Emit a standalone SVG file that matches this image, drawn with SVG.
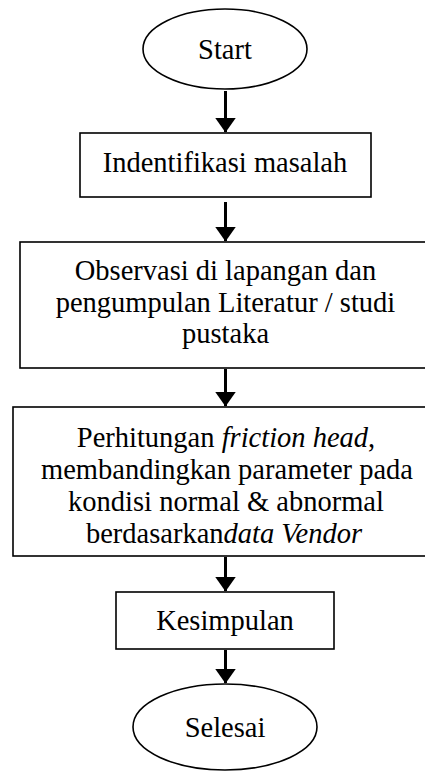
<svg xmlns="http://www.w3.org/2000/svg" width="425" height="773" viewBox="0 0 425 773">
<style>
.s{fill:#fff;stroke:#000;stroke-width:1.6}
.t{font-family:"Liberation Serif","Times New Roman","DejaVu Serif",serif;font-size:28.5px;fill:#000;text-anchor:middle}
.c{stroke:#000;stroke-width:3;fill:none}
</style>
<defs>
<marker id="ah" markerWidth="5" markerHeight="7" refX="4.8" refY="3.5" orient="auto" markerUnits="strokeWidth">
<path d="M0,0 L5,3.5 L0,7 Z" fill="#000"/>
</marker>
</defs>
<rect width="425" height="773" fill="#fff"/>
<g id="start"><ellipse class="s" cx="225" cy="49" rx="82" ry="40"/><text class="t" x="225" y="59">Start</text></g>
<g id="identifikasi"><rect class="s" x="80" y="133" width="291" height="64"/><text class="t" x="225" y="172">Indentifikasi masalah</text></g>
<g id="observasi"><rect class="s" x="20" y="242" width="420" height="126"/><text class="t" x="225.5" y="280">Observasi di lapangan dan</text><text class="t" x="225.5" y="312">pengumpulan Literatur / studi</text><text class="t" x="225.5" y="343">pustaka</text></g>
<g id="perhitungan"><rect class="s" x="13" y="407" width="430" height="149"/><text class="t" x="226" y="447">Perhitungan <tspan font-style="italic">friction head</tspan>,</text><text class="t" x="227" y="479">membandingkan parameter pada</text><text class="t" x="226" y="511">kondisi normal &amp; abnormal</text><text class="t" x="224" y="543">berdasarkan<tspan font-style="italic">data Vendor</tspan></text></g>
<g id="kesimpulan"><rect class="s" x="116" y="592" width="218" height="57"/><text class="t" x="225" y="630">Kesimpulan</text></g>
<g id="selesai"><ellipse class="s" cx="225" cy="727" rx="92" ry="43"/><text class="t" x="225" y="737">Selesai</text></g>
<g id="connectors">
<line class="c" x1="225.5" y1="91" x2="225.5" y2="132" marker-end="url(#ah)"/>
<line class="c" x1="225.5" y1="202" x2="225.5" y2="241" marker-end="url(#ah)"/>
<line class="c" x1="225.5" y1="369" x2="225.5" y2="406" marker-end="url(#ah)"/>
<line class="c" x1="225.5" y1="557" x2="225.5" y2="591" marker-end="url(#ah)"/>
<line class="c" x1="225.5" y1="650" x2="225.5" y2="683" marker-end="url(#ah)"/>
</g>
</svg>
